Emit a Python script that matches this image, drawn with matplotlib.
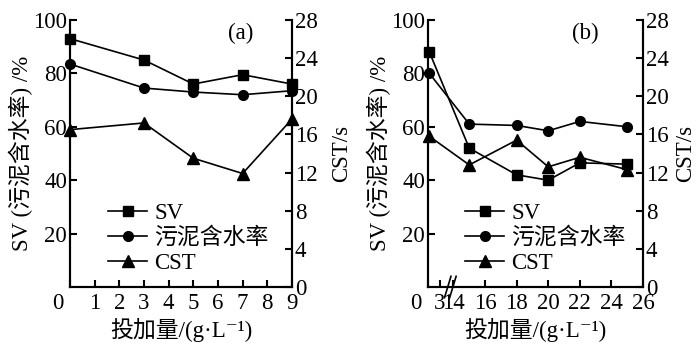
import numpy as np
import matplotlib
matplotlib.use("Agg")
import matplotlib.pyplot as plt
import matplotlib.transforms as mtransforms
from matplotlib.lines import Line2D

plt.rcParams["font.family"] = ["Liberation Serif", "Noto Sans CJK SC", "DejaVu Serif"]
FS = 16.5

# panel (a)
dose_a = [0, 3, 5, 7, 9]
sv_a = [93, 85, 76, 79.5, 76]
water_a = [83.5, 74.5, 73, 72, 73.5]
cst_a = [16.5, 17.2, 13.5, 11.9, 17.6]

# panel (b)
dose_b = [0.4, 15, 18, 20, 22, 25]
sv_b = [88, 52, 42, 40, 46.5, 46]
water_b = [80, 61, 60.5, 58.5, 62, 60]
cst_b = [15.8, 12.8, 15.4, 12.6, 13.6, 12.3]

legend_labels = ["SV", "污泥含水率", "CST"]
left_ticks = [20, 40, 60, 80, 100]
right_ticks = [0, 4, 8, 12, 16, 20, 24, 28]
xticks_a = list(range(0, 10))
xticks_b = [0, 3, 14, 16, 18, 20, 22, 24, 26]

# broken x axis for (b): 0-3 and 3-14 squeezed
BREAK_X = [0, 3, 14, 26]
BREAK_U = [0, 0.78, 1.63, 13.63]


def fwd(x):
    return np.interp(x, BREAK_X, BREAK_U)


def inv(u):
    return np.interp(u, BREAK_U, BREAK_X)


def style_axes(ax, ax2, right_pad):
    for a in (ax, ax2):
        for s in a.spines.values():
            s.set_linewidth(1.5)
        a.tick_params(direction="in", width=1.5, length=5, labelsize=FS)
    ax.spines["top"].set_visible(False)
    ax2.spines["top"].set_visible(False)
    ax.set_ylim(0, 100)
    ax.set_yticks(left_ticks)
    ax2.set_ylim(0, 28)
    ax2.set_yticks(right_ticks)
    ax.set_ylabel("SV (污泥含水率) /%", fontsize=FS, labelpad=0)
    ax2.set_ylabel("CST/s", fontsize=FS, labelpad=right_pad)
    ax.set_xlabel("投加量/(g·L⁻¹)", fontsize=FS, labelpad=3)
    ax.tick_params(axis="x", pad=4)
    ax.tick_params(axis="y", pad=2)
    ax2.tick_params(axis="y", pad=2)
    # zero label of x axis sits a bit left of the spine
    lab = ax.get_xticklabels()[0]
    lab.set_transform(lab.get_transform() + mtransforms.ScaledTranslation(-12 / 100, 0, ax.figure.dpi_scale_trans))


def draw(ax, ax2, x, sv, water, cst):
    kw = dict(color="black", lw=1.2, clip_on=False, zorder=5)
    ax.plot(x, sv, marker="s", ms=7, **kw)
    ax.plot(x, water, marker="o", ms=7, **kw)
    ax2.plot(x, cst, marker="^", ms=8, **kw)


def add_legend(ax):
    handles = [
        Line2D([], [], color="black", lw=1.2, marker="s", ms=7),
        Line2D([], [], color="black", lw=1.2, marker="o", ms=7),
        Line2D([], [], color="black", lw=1.2, marker="^", ms=8),
    ]
    ax.legend(handles, legend_labels, loc="lower left", bbox_to_anchor=(0.1, -0.01),
              frameon=False, fontsize=FS, handlelength=1.7, handletextpad=0.3,
              labelspacing=0.15, borderaxespad=0.3)


fig = plt.figure(figsize=(7, 3.5), dpi=100)

ax_a = fig.add_axes([0.1, 0.18, 0.317, 0.763])
ax_a2 = ax_a.twinx()
ax_a.set_xlim(0, 9)
ax_a.set_xticks(xticks_a)
draw(ax_a, ax_a2, dose_a, sv_a, water_a, cst_a)
style_axes(ax_a, ax_a2, 10)
add_legend(ax_a)
ax_a.text(0.77, 0.95, "(a)", transform=ax_a.transAxes, ha="center", va="center", fontsize=FS)

ax_b = fig.add_axes([0.611, 0.18, 0.3076, 0.763])
ax_b.set_xscale("function", functions=(fwd, inv))
ax_b2 = ax_b.twinx()
ax_b.set_xlim(0, 26)
ax_b.set_xticks(xticks_b)
ax_b.set_xticklabels([str(t) for t in xticks_b])
draw(ax_b, ax_b2, dose_b, sv_b, water_b, cst_b)
style_axes(ax_b, ax_b2, 5)
add_legend(ax_b)
ax_b.text(0.73, 0.95, "(b)", transform=ax_b.transAxes, ha="center", va="center", fontsize=FS)

# break marks on (b) x axis
bx = 0.105
for dx in (-0.012, 0.012):
    ax_b.plot([bx + dx - 0.015, bx + dx + 0.015], [-0.04, 0.04], color="black", lw=1.2,
              transform=ax_b.transAxes, clip_on=False)

fig.savefig("out.png", dpi=100)
